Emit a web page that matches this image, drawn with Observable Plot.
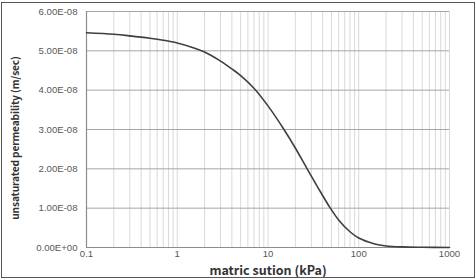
<!DOCTYPE html>
<html>
<head>
<meta charset="utf-8">
<script src="https://cdn.jsdelivr.net/npm/d3@7"></script>
<script src="https://cdn.jsdelivr.net/npm/@observablehq/plot@0.6"></script>
<style>
  html, body { margin: 0; padding: 0; background: #fff; }
  #wrap { position: relative; width: 476px; height: 280px; }
  #frame { position: absolute; left: 1px; top: 2px; width: 474px; height: 276px; box-sizing: border-box; border: 1.5px solid #555; pointer-events: none; }
  svg g[aria-label="x-axis label"] text {
    font-weight: bold; fill: #333; font-family: "Noto Sans CJK KR", "Open Sans", sans-serif; font-size: 12.5px;
  }
  svg g.ylab text {
    font-weight: bold; fill: #333; font-family: "Noto Sans CJK KR", "Open Sans", sans-serif; font-size: 10.2px; letter-spacing: -0.15px;
  }
</style>
</head>
<body>
<div id="wrap"><div id="chart"></div><div id="frame"></div></div>
<script>
// matric suction (kPa)
const suction = [0.1, 0.2, 0.3, 0.5, 0.7, 1, 1.5, 2, 3, 4, 5, 7, 10, 15, 20, 27, 35, 48, 60, 80, 100, 150, 200, 300, 500, 1000];
// unsaturated permeability (m/sec)
const permeability = [5.46e-8, 5.42e-8, 5.38e-8, 5.32e-8, 5.27e-8, 5.20e-8, 5.08e-8, 4.97e-8, 4.74e-8, 4.54e-8, 4.37e-8, 4.05e-8, 3.60e-8, 3.00e-8, 2.53e-8, 2.00e-8, 1.55e-8, 1.02e-8, 0.70e-8, 0.40e-8, 0.24e-8, 0.09e-8, 0.04e-8, 0.015e-8, 0.005e-8, 0.0];
const xTicks = [0.1, 1, 10, 100, 1000];
const yTicks = [0, 1e-8, 2e-8, 3e-8, 4e-8, 5e-8, 6e-8];
const xLabel = "matric sution (kPa)";
const yLabel = "unsaturated permeability (m/sec)";
const xMinor = [];
for (const dec of [0.1, 1, 10, 100]) for (let k = 1; k <= 9; k++) xMinor.push(+(dec * k).toPrecision(3));
xMinor.push(1000);

const data = suction.map((s, i) => ({s, k: permeability[i]}));

function sci(d) {
  if (d === 0) return "0.00E+00";
  const e = Math.floor(Math.log10(Math.abs(d)) + 1e-9);
  const m = d / Math.pow(10, e);
  return m.toFixed(2) + "E" + (e < 0 ? "-" : "+") + String(Math.abs(e)).padStart(2, "0");
}

const chart = Plot.plot({
  width: 476,
  height: 280,
  marginLeft: 86,
  marginRight: 27,
  marginTop: 11,
  marginBottom: 33,
  style: {fontFamily: "'Liberation Sans', Arial, sans-serif", fontSize: "9.6px", color: "#595959", background: "transparent"},
  x: {type: "log", domain: [0.1, 1000]},
  y: {domain: [0, 6e-8]},
  marks: [
    Plot.ruleX(xMinor, {stroke: "#d9d9d9", strokeWidth: 1}),
    Plot.ruleY(yTicks, {stroke: "#a6a6a6", strokeWidth: 1}),
    Plot.ruleX([0.1], {stroke: "#8c8c8c", strokeWidth: 1.2}),
    Plot.ruleY([0], {stroke: "#8c8c8c", strokeWidth: 1.2}),
    Plot.line(data, {x: "s", y: "k", stroke: "#3f3f3f", strokeWidth: 1.6, curve: "catmull-rom"}),
    Plot.axisX({ticks: xTicks, tickSize: 0, tickPadding: 3, tickFormat: d => String(d), label: xLabel, labelAnchor: "center", labelArrow: "none", labelOffset: 27}),
    Plot.axisY({ticks: yTicks, tickSize: 0, tickPadding: 9, tickFormat: sci, label: null}),
    Plot.text([yLabel], {frameAnchor: "left", textAnchor: "middle", lineAnchor: "middle", rotate: -90, dx: -71, dy: 8.5, className: "ylab", fill: "#333"})
  ]
});
document.getElementById("chart").appendChild(chart);
</script>
</body>
</html>
